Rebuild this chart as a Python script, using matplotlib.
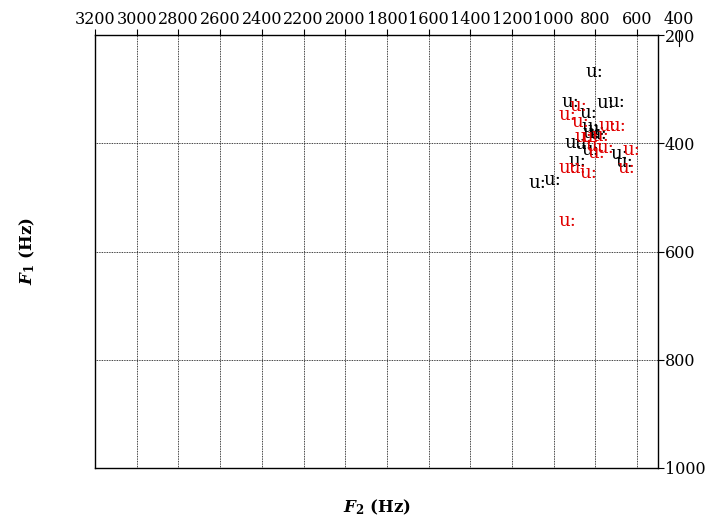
import matplotlib.pyplot as plt
from matplotlib.lines import Line2D

plt.rcParams['font.family'] = 'DejaVu Serif'
plt.rcParams['mathtext.fontset'] = 'dejavuserif'

# formant values (Hz) of the tokens, two speakers
black_f2 = [807, 922, 836, 754, 701, 826, 797, 817, 788, 908, 860, 826, 888, 687, 663, 1080, 1008]
black_f1 = [268, 324, 344, 326, 324, 370, 375, 381, 383, 399, 401, 412, 433, 420, 435, 473, 468]
red_f2 = [884, 936, 874, 744, 696, 860, 826, 778, 807, 754, 793, 629, 653, 936, 888, 836, 936]
red_f1 = [331, 348, 361, 368, 368, 388, 388, 387, 405, 409, 418, 412, 446, 446, 446, 455, 543]
vowel = 'u:'

x_ticks = [3200, 3000, 2800, 2600, 2400, 2200, 2000, 1800, 1600, 1400, 1200, 1000, 800, 600]
y_ticks = [200, 400, 600, 800, 1000]

fig = plt.figure(figsize=(7.05, 5.15), dpi=100)
ax = fig.add_axes([0.1348, 0.0913, 0.7985, 0.8407])

for f2, f1 in zip(black_f2, black_f1):
    ax.text(f2, f1, vowel, color='black', fontsize=13, ha='center', va='center')
for f2, f1 in zip(red_f2, red_f1):
    ax.text(f2, f1, vowel, color='#e00000', fontsize=13, ha='center', va='center')

ax.set_xlim(3200, 500)
ax.set_ylim(1000, 200)
ax.xaxis.tick_top()
ax.yaxis.tick_right()
ax.set_xticks(x_ticks)
ax.set_yticks(y_ticks)
ax.tick_params(labelsize=11.5, length=4, width=0.8, direction='out', pad=1)

# grid only inside the box
for x in x_ticks[1:]:
    ax.axvline(x, color='black', lw=0.6, ls=(0, (1, 1)), zorder=0)
for y in y_ticks[1:-1]:
    ax.axhline(y, color='black', lw=0.6, ls=(0, (1, 1)), zorder=0)

# the 400 tick sits past the right edge of the box
tr = ax.get_xaxis_transform()
ax.annotate('400', xy=(400, 1.0), xycoords=tr, xytext=(0, 5),
            textcoords='offset points', ha='center', va='bottom',
            fontsize=11.5, annotation_clip=False)
ax.add_line(Line2D([400, 400], [1.01, 0.975], transform=tr, color='black', lw=0.8,
                   clip_on=False))

for s in ax.spines.values():
    s.set_linewidth(1.0)

ax.set_xlabel(r'$\mathbfit{F}_\mathbf{2}$ (Hz)', fontsize=12, fontweight='bold')
ax.xaxis.set_label_position('bottom')
ax.xaxis.labelpad = 21
ax.set_ylabel(r'$\mathbfit{F}_\mathbf{1}$ (Hz)', fontsize=12, fontweight='bold')
ax.yaxis.set_label_position('left')
ax.yaxis.labelpad = 42

plt.savefig('out.png', dpi=100)
